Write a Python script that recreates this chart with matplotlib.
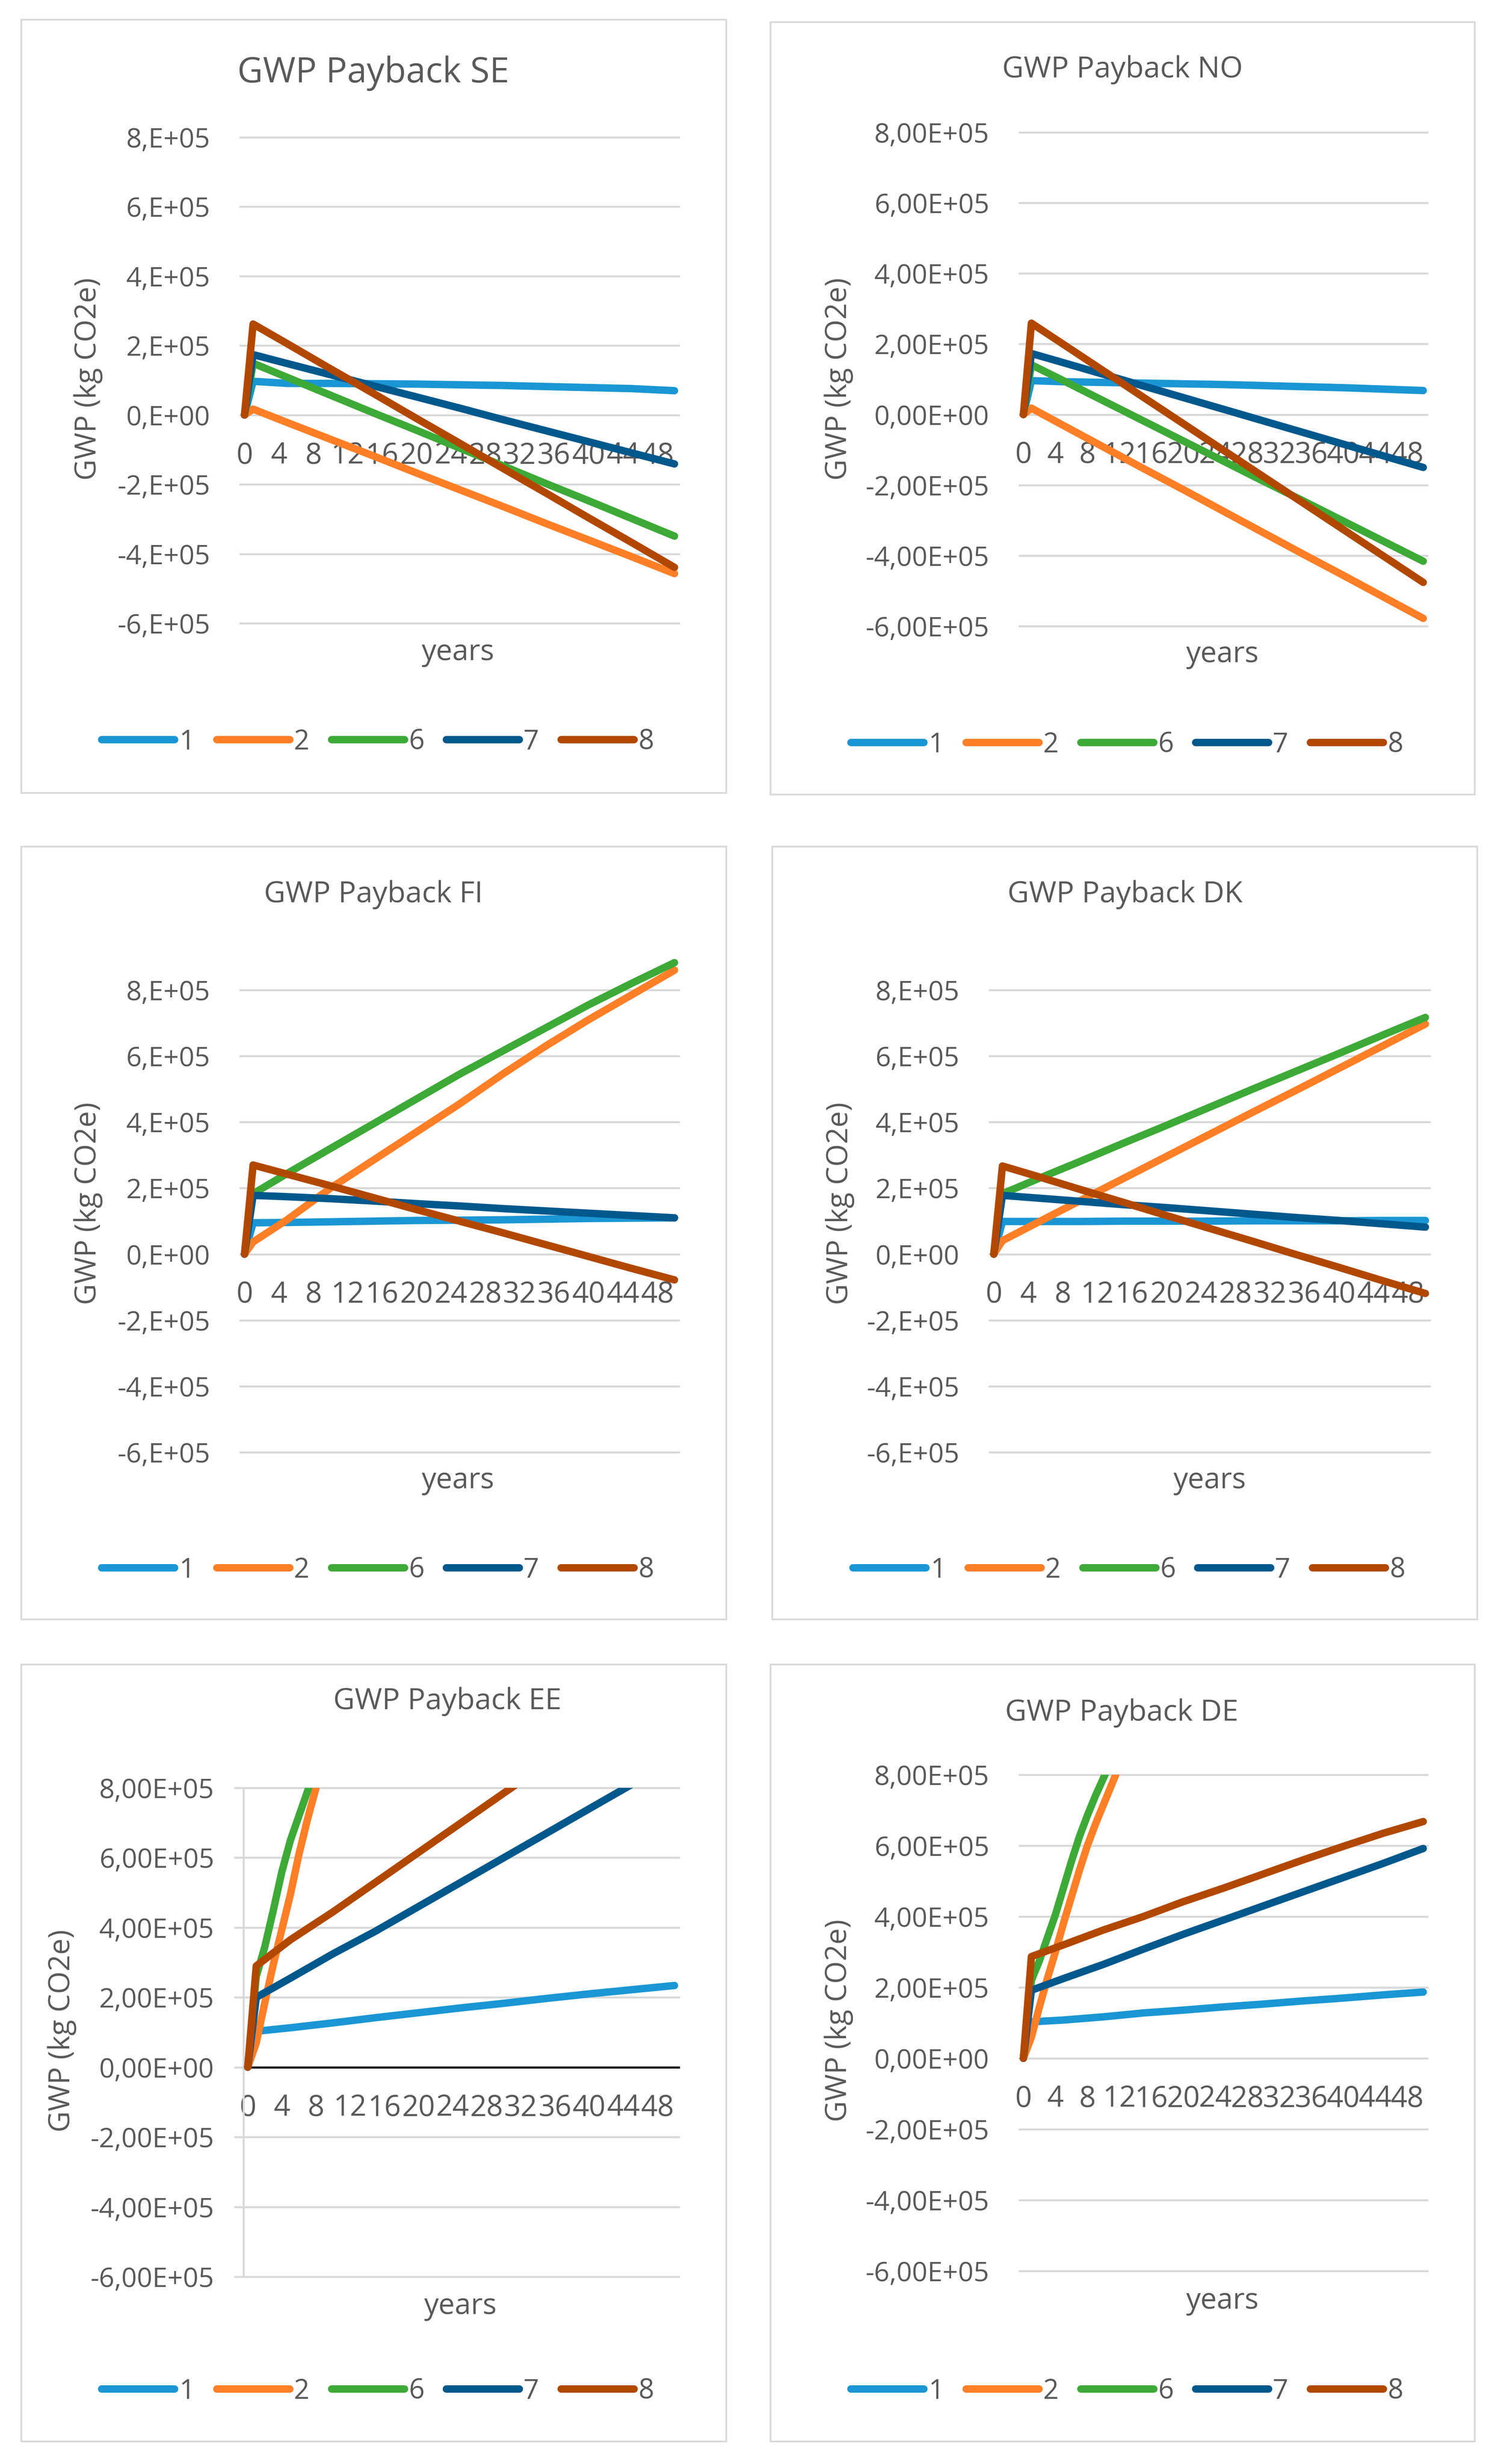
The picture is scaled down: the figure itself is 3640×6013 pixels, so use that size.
import matplotlib
matplotlib.use('Agg')
import matplotlib.pyplot as plt
from matplotlib.patches import Rectangle

plt.rcParams['font.family'] = ['Open Sans', 'DejaVu Sans']

W, H = 3641, 6013
GRAY_TEXT = '#595959'
GRID = '#D9D9D9'

# x positions (years) of the read points
years = [0, 1, 5, 10, 15, 20, 25, 30, 35, 40, 45, 50]
years_fast = [0, 1, 2, 3, 4, 5, 6, 7, 8, 9, 10, 12]

series_names = ['1', '2', '6', '7', '8']
series_colors = ['#1A96D5', '#FF7F27', '#3DAA37', '#00588C', '#B24800']

# GWP values, units of 1e5 kg CO2e
se_1 = [0, 0.97, 0.91, 0.91, 0.90, 0.89, 0.87, 0.85, 0.82, 0.79, 0.76, 0.70]
se_2 = [0, 0.17, -0.22, -0.70, -1.18, -1.67, -2.15, -2.63, -3.12, -3.60, -4.08, -4.57]
se_6 = [0, 1.49, 1.08, 0.57, 0.06, -0.44, -0.95, -1.46, -1.97, -2.47, -2.98, -3.49]
se_7 = [0, 1.74, 1.48, 1.16, 0.84, 0.52, 0.20, -0.13, -0.45, -0.77, -1.09, -1.41]
se_8 = [0, 2.62, 2.05, 1.33, 0.62, -0.10, -0.81, -1.53, -2.24, -2.96, -3.67, -4.39]

no_1 = [0, 0.96, 0.93, 0.91, 0.89, 0.87, 0.85, 0.82, 0.79, 0.76, 0.72, 0.68]
no_2 = [0, 0.18, -0.31, -0.92, -1.53, -2.13, -2.74, -3.35, -3.96, -4.56, -5.17, -5.78]
no_6 = [0, 1.41, 0.96, 0.39, -0.18, -0.75, -1.32, -1.89, -2.45, -3.02, -3.59, -4.16]
no_7 = [0, 1.73, 1.47, 1.14, 0.81, 0.48, 0.15, -0.18, -0.51, -0.84, -1.17, -1.50]
no_8 = [0, 2.59, 1.99, 1.24, 0.49, -0.26, -1.01, -1.76, -2.51, -3.26, -4.01, -4.76]

fi_1 = [0, 0.95, 0.96, 0.98, 1.00, 1.02, 1.03, 1.04, 1.06, 1.08, 1.09, 1.10]
fi_2 = [0, 0.37, 1.05, 2.00, 2.85, 3.70, 4.55, 5.45, 6.30, 7.10, 7.85, 8.60]
fi_6 = [0, 1.83, 2.45, 3.20, 3.95, 4.70, 5.45, 6.15, 6.85, 7.55, 8.20, 8.83]
fi_7 = [0, 1.78, 1.74, 1.68, 1.61, 1.53, 1.46, 1.38, 1.31, 1.24, 1.17, 1.10]
fi_8 = [0, 2.70, 2.42, 2.07, 1.71, 1.35, 1.00, 0.65, 0.29, -0.07, -0.43, -0.78]

dk_1 = [0, 0.99, 0.99, 0.99, 1.00, 1.00, 1.00, 1.01, 1.01, 1.01, 1.02, 1.02]
dk_2 = [0, 0.41, 0.95, 1.62, 2.29, 2.96, 3.63, 4.30, 4.96, 5.63, 6.30, 6.97]
dk_6 = [0, 1.83, 2.27, 2.81, 3.36, 3.90, 4.45, 5.00, 5.54, 6.08, 6.63, 7.17]
dk_7 = [0, 1.78, 1.70, 1.60, 1.50, 1.41, 1.31, 1.21, 1.11, 1.02, 0.92, 0.82]
dk_8 = [0, 2.67, 2.36, 1.96, 1.57, 1.17, 0.78, 0.39, -0.01, -0.40, -0.80, -1.19]

ee_1 = [0, 1.03, 1.13, 1.27, 1.42, 1.56, 1.70, 1.83, 1.97, 2.10, 2.22, 2.34]
ee_2 = [0, 0.70, 1.85, 2.95, 3.95, 4.95, 6.10, 7.10, 8.00, 8.90, 9.80, 11.60]  # years_fast
ee_6 = [0, 2.60, 3.45, 4.50, 5.60, 6.50, 7.20, 7.90, 8.60, 9.30, 10.00, 11.40]  # years_fast
ee_7 = [0, 2.00, 2.55, 3.25, 3.90, 4.60, 5.30, 6.00, 6.70, 7.40, 8.10, 8.80]
ee_8 = [0, 2.90, 3.65, 4.45, 5.30, 6.15, 7.00, 7.85, 8.70, 9.55, 10.40, 11.25]

de_1 = [0, 1.03, 1.08, 1.17, 1.28, 1.36, 1.45, 1.53, 1.62, 1.70, 1.79, 1.87]
de_2 = [0, 0.60, 1.45, 2.25, 3.00, 3.80, 4.55, 5.30, 6.00, 6.60, 7.15, 8.25]  # years_fast
de_6 = [0, 2.20, 2.75, 3.40, 4.05, 4.80, 5.55, 6.25, 6.85, 7.40, 7.90, 8.90]  # years_fast
de_7 = [0, 1.92, 2.25, 2.65, 3.08, 3.50, 3.90, 4.30, 4.70, 5.10, 5.50, 5.92]
de_8 = [0, 2.87, 3.20, 3.62, 4.00, 4.42, 4.80, 5.20, 5.60, 5.98, 6.35, 6.68]

yticks = [-6e5, -4e5, -2e5, 0, 2e5, 4e5, 6e5, 8e5]
ylabels_short = ['-6,E+05', '-4,E+05', '-2,E+05', '0,E+00', '2,E+05', '4,E+05', '6,E+05', '8,E+05']
ylabels_long = ['-6,00E+05', '-4,00E+05', '-2,00E+05', '0,00E+00', '2,00E+05', '4,00E+05', '6,00E+05', '8,00E+05']
xticks = list(range(0, 49, 4))
xticklabels = [str(v) for v in xticks]


def fx(px):
    return px / W


def fy(py):
    return 1 - py / H


fig = plt.figure(figsize=(W / 100, H / 100), dpi=100)
fig.patch.set_facecolor('white')


def panel(title, tsize, box, plot, title_xy, ylab_xy, xlab_xy, leg_xy, xs, ys, ylabels,
          ee=False, clip=False):
    x0, y0, x1, y1 = box
    fig.add_artist(Rectangle((fx(x0), fy(y1)), (x1 - x0) / W, (y1 - y0) / H,
                             transform=fig.transFigure, facecolor='none',
                             edgecolor=GRID, lw=3, zorder=0))
    px0, py0, px1, py1 = plot
    ax = fig.add_axes([fx(px0), fy(py1), (px1 - px0) / W, (py1 - py0) / H])
    ax.set_facecolor('none')
    handles = []
    for x, y, name, c in zip(xs, ys, series_names, series_colors):
        ln, = ax.plot(x, [v * 1e5 for v in y], color=c, lw=13, label=name,
                      solid_capstyle='round', solid_joinstyle='round', zorder=3,
                      clip_on=clip)
        handles.append(ln)
    ax.set_xlim(-0.5, 50.5)
    ax.set_ylim(-6e5, 8e5)
    ax.set_yticks(yticks)
    ax.set_yticklabels(ylabels)
    ax.set_xticks(xticks)
    ax.set_xticklabels(xticklabels)
    ax.set_axisbelow(True)
    ax.yaxis.grid(True, color=GRID, lw=3.5)
    for gl in ax.get_ygridlines():
        gl.set_clip_on(False)
    for s in ['top', 'right']:
        ax.spines[s].set_visible(False)
    ax.spines['bottom'].set_position(('data', 0))
    ax.tick_params(axis='x', length=0, pad=46, labelsize=51, labelcolor=GRAY_TEXT)
    if ee:
        ax.spines['bottom'].set_color('black')
        ax.spines['bottom'].set_linewidth(3.6)
        ax.spines['bottom'].set_zorder(2)
        ax.spines['left'].set_color(GRID)
        ax.spines['left'].set_linewidth(3.5)
        ax.tick_params(axis='y', length=16.5, width=3.5, color=GRID, pad=35,
                       labelsize=47.5, labelcolor=GRAY_TEXT)
    else:
        ax.spines['bottom'].set_visible(False)
        ax.spines['left'].set_visible(False)
        ax.tick_params(axis='y', length=0, pad=53, labelsize=47.5, labelcolor=GRAY_TEXT)

    fig.text(fx(title_xy[0]), fy(title_xy[1]), title, fontsize=tsize, color=GRAY_TEXT,
             ha='center', va='center')
    fig.text(fx(ylab_xy[0]), fy(ylab_xy[1]), 'GWP (kg CO2e)', fontsize=51, color=GRAY_TEXT,
             ha='center', va='center', rotation=90)
    fig.text(fx(xlab_xy[0]), fy(xlab_xy[1]), 'years', fontsize=51, color=GRAY_TEXT,
             ha='center', va='center')
    fig.legend(handles, series_names, loc='center', bbox_to_anchor=(fx(leg_xy[0]), fy(leg_xy[1])),
               ncol=5, frameon=False, fontsize=48, handlelength=2.67, handletextpad=0.16,
               columnspacing=0.8, labelcolor=GRAY_TEXT)
    return ax


panel('GWP Payback SE', 62, (52, 48, 1772, 1935), (586, 335, 1656, 1521),
      (911, 179), (215, 925), (1118, 1592), (922, 1811),
      [years] * 5, [se_1, se_2, se_6, se_7, se_8], ylabels_short)

panel('GWP Payback NO', 52, (1880, 54, 3598, 1939), (2487, 323, 3482, 1528),
      (2739, 170), (2046, 925), (2983, 1597), (2750, 1818),
      [years] * 5, [no_1, no_2, no_6, no_7, no_8], ylabels_long)

panel('GWP Payback FI', 52, (52, 2066, 1772, 3952), (586, 2416, 1656, 3544),
      (911, 2183), (215, 2937), (1118, 3613), (922, 3832),
      [years] * 5, [fi_1, fi_2, fi_6, fi_7, fi_8], ylabels_short)

panel('GWP Payback DK', 52, (1884, 2066, 3604, 3952), (2414, 2416, 3488, 3544),
      (2745, 2183), (2049, 2937), (2952, 3613), (2755, 3832),
      [years] * 5, [dk_1, dk_2, dk_6, dk_7, dk_8], ylabels_short)

panel('GWP Payback EE', 52, (52, 4062, 1772, 5958), (594, 4363, 1656, 5556),
      (1091, 4152), (151, 4956), (1124, 5628), (922, 5836),
      [years, years_fast, years_fast, years, years], [ee_1, ee_2, ee_6, ee_7, ee_8],
      ylabels_long, ee=True, clip=True)

panel('GWP Payback DE', 52, (1880, 4062, 3598, 5958), (2487, 4331, 3482, 5542),
      (2737, 4180), (2046, 4931), (2983, 5615), (2750, 5836),
      [years, years_fast, years_fast, years, years], [de_1, de_2, de_6, de_7, de_8],
      ylabels_long, clip=True)

fig.savefig('out.png', dpi=100, facecolor='white')
